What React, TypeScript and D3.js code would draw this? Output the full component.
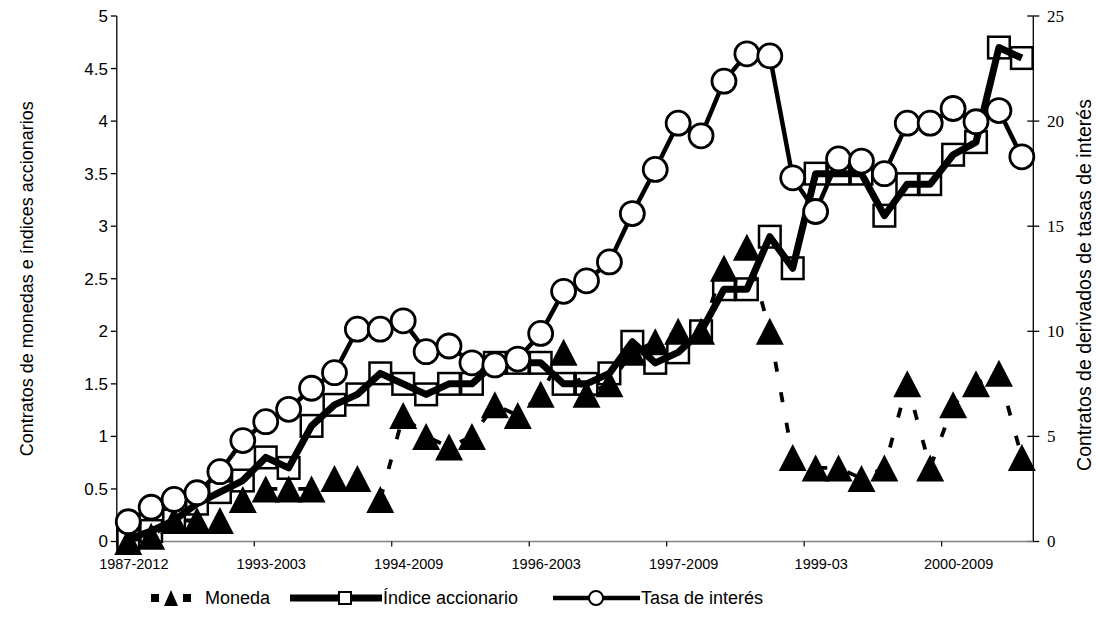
import React from 'react';
import * as d3 from 'd3';

const categoryLabels: string[] = [
  '1987-2012', '', '', '', '', '',
  '1993-2003', '', '', '', '', '',
  '1994-2009', '', '', '', '', '',
  '1996-2003', '', '', '', '', '',
  '1997-2009', '', '', '', '', '',
  '1999-03', '', '', '', '', '',
  '2000-2009', '', '', '',
];

const moneda: number[] = [
  0, 0.05, 0.2, 0.2, 0.2, 0.4, 0.5, 0.5, 0.5, 0.6,
  0.6, 0.4, 1.2, 1.0, 0.9, 1.0, 1.3, 1.2, 1.4, 1.8,
  1.4, 1.5, 1.8, 1.9, 2.0, 2.0, 2.6, 2.8, 2.0, 0.8,
  0.7, 0.7, 0.6, 0.7, 1.5, 0.7, 1.3, 1.5, 1.6, 0.8,
];

const indice: number[] = [
  0.02, 0.1, 0.2, 0.36, 0.47, 0.58, 0.8, 0.7, 1.1, 1.3,
  1.4, 1.6, 1.5, 1.4, 1.5, 1.5, 1.7, 1.7, 1.7, 1.5,
  1.5, 1.6, 1.9, 1.7, 1.8, 2.0, 2.4, 2.4, 2.9, 2.6,
  3.5, 3.5, 3.5, 3.1, 3.4, 3.4, 3.68, 3.8, 4.7, 4.6,
];

const tasa: number[] = [
  0.94, 1.63, 2.0, 2.32, 3.32, 4.8, 5.7, 6.29, 7.29, 8.03,
  10.1, 10.1, 10.5, 9.03, 9.3, 8.5, 8.4, 8.68, 9.9, 11.9,
  12.4, 13.3, 15.6, 17.7, 19.9, 19.3, 21.9, 23.2, 23.1, 17.3,
  15.7, 18.2, 18.1, 17.5, 19.9, 19.9, 20.6, 19.97, 20.5, 18.3,
];

const leftTicks: number[] = [0, 0.5, 1, 1.5, 2, 2.5, 3, 3.5, 4, 4.5, 5];
const rightTicks: number[] = [0, 5, 10, 15, 20, 25];

const leftTitle = 'Contratos de monedas e índices accionarios';
const rightTitle = 'Contratos de derivados de tasas de interés';
const legendNames = ['Moneda', 'Índice accionario', 'Tasa de interés'];

const SANS = 'Arial, "Liberation Sans", sans-serif';
const SERIF = '"Times New Roman", "Liberation Serif", serif';

function triPath(cx: number, cy: number, w: number, h: number) {
  return `M${cx},${cy - h / 2}L${cx + w / 2},${cy + h / 2}L${cx - w / 2},${cy + h / 2}Z`;
}

export default function App() {
  const W = 1096;
  const H = 625;
  const left = 116.8;
  const right = 1033.3;
  const top = 16;
  const bottom = 541.5;

  const x = d3.scaleBand<number>().domain(d3.range(categoryLabels.length)).range([left, right]).padding(0);
  const cx = (i: number) => (x(i) as number) + x.bandwidth() / 2;
  const yL = d3.scaleLinear().domain([0, 5]).range([bottom, top]);
  const yR = d3.scaleLinear().domain([0, 25]).range([bottom, top]);

  const lineL = d3.line<number>().x((_, i) => cx(i)).y((d) => yL(d));
  const lineR = d3.line<number>().x((_, i) => cx(i)).y((d) => yR(d));

  const tickIdx = categoryLabels.map((l, i) => (l ? i : -1)).filter((i) => i >= 0);

  const legY = 598;

  return (
    <svg width={W} height={H} style={{ position: 'absolute', left: 0, top: 0, background: '#fff' }}>
      <rect x={0} y={0} width={W} height={H} fill="#fff" />
      {/* Left axis */}
      <line x1={left} x2={left} y1={top} y2={bottom} stroke="#000" strokeWidth={1.3} />
      {leftTicks.map((t) => (
        <g key={'l' + t}>
          <line x1={left - 6} x2={left} y1={yL(t)} y2={yL(t)} stroke="#000" strokeWidth={1.3} />
          <text x={108} y={yL(t)} dy="0.35em" textAnchor="end" fontFamily={SANS} fontSize={17}>
            {String(t)}
          </text>
        </g>
      ))}
      {/* Right axis */}
      <line x1={right} x2={right} y1={top} y2={bottom} stroke="#000" strokeWidth={1.3} />
      {rightTicks.map((t) => (
        <g key={'r' + t}>
          <line x1={right - 6} x2={right + 6} y1={yR(t)} y2={yR(t)} stroke="#000" strokeWidth={1.3} />
          <text x={1047} y={yR(t)} dy="0.33em" textAnchor="start" fontFamily={SERIF} fontSize={17}>
            {String(t)}
          </text>
        </g>
      ))}
      {/* Bottom axis */}
      <line x1={left} x2={right} y1={bottom} y2={bottom} stroke="#808080" strokeWidth={1.5} />
      {tickIdx.map((i) => (
        <g key={'x' + i}>
          <line x1={x(i) as number} x2={x(i) as number} y1={bottom} y2={bottom + 5} stroke="#000" strokeWidth={1.2} />
          <text x={(x(i) as number) + 17} y={568.5} textAnchor="middle" fontFamily={SANS} fontSize={14.5}>
            {categoryLabels[i]}
          </text>
        </g>
      ))}
      {/* Titles */}
      <text transform={`translate(33,${(top + bottom) / 2}) rotate(-90)`} textAnchor="middle" fontFamily={SANS} fontSize={18}>
        {leftTitle}
      </text>
      <text transform={`translate(1091,285) rotate(-90)`} textAnchor="middle" fontFamily={SANS} fontSize={19.5}>
        {rightTitle}
      </text>

      {/* Índice accionario: squares then thick line */}
      {indice.map((v, i) => (
        <rect key={'s' + i} x={cx(i) - 10.8} y={yL(v) - 10.8} width={21.6} height={21.6} fill="#fff" stroke="#000" strokeWidth={2.5} />
      ))}
      <path d={lineL(indice) || ''} fill="none" stroke="#000" strokeWidth={7} strokeLinejoin="round" />

      {/* Moneda: dashed line and triangles */}
      <path d={lineL(moneda) || ''} fill="none" stroke="#000" strokeWidth={3.8} strokeDasharray="10,21" />
      {moneda.map((v, i) => (
        <path key={'t' + i} d={triPath(cx(i), yL(v), 28, 27)} fill="#000" />
      ))}

      {/* Tasa de interés: line and circles (secondary axis) */}
      <path d={lineR(tasa) || ''} fill="none" stroke="#000" strokeWidth={4.5} strokeLinejoin="round" />
      {tasa.map((v, i) => (
        <circle key={'c' + i} cx={cx(i)} cy={yR(v)} r={12} fill="#fff" stroke="#000" strokeWidth={2.8} />
      ))}

      {/* Legend */}
      <g>
        <rect x={151} y={legY - 4} width={8} height={8} fill="#000" />
        <path d={triPath(171, legY, 14, 16)} fill="#000" />
        <rect x={183} y={legY - 4} width={8} height={8} fill="#000" />
        <text x={205} y={legY} dy="0.35em" fontFamily={SANS} fontSize={18}>{legendNames[0]}</text>

        <line x1={290} x2={382} y1={legY} y2={legY} stroke="#000" strokeWidth={7} />
        <rect x={339} y={legY - 6} width={12} height={12} fill="#fff" stroke="#000" strokeWidth={2} />
        <text x={383} y={legY} dy="0.35em" fontFamily={SANS} fontSize={18}>{legendNames[1]}</text>

        <line x1={553} x2={640} y1={legY} y2={legY} stroke="#000" strokeWidth={4.5} />
        <circle cx={596} cy={legY} r={7} fill="#fff" stroke="#000" strokeWidth={2} />
        <text x={641} y={legY} dy="0.35em" fontFamily={SANS} fontSize={18}>{legendNames[2]}</text>
      </g>
    </svg>
  );
}
